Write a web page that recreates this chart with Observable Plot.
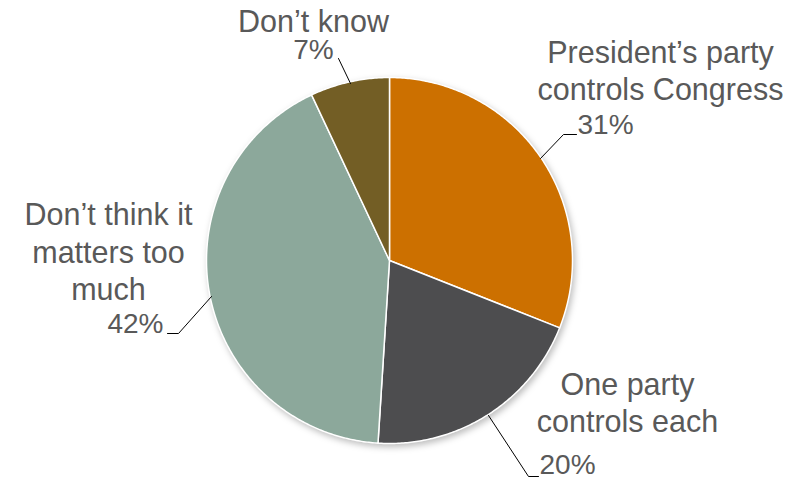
<!DOCTYPE html>
<html>
<head>
<meta charset="utf-8">
<script src="https://cdn.jsdelivr.net/npm/d3@7"></script>
<script src="https://cdn.jsdelivr.net/npm/@observablehq/plot@0.6"></script>
<style>
  html, body { margin: 0; padding: 0; background: #fff; }
  #chart svg g[aria-label="line"]:first-of-type { filter: drop-shadow(2px 3px 3px rgba(0,0,0,0.25)); }
</style>
</head>
<body>
<div id="chart"></div>
<script>
// ---- Data ----
const categories = ["President’s party\ncontrols Congress", "One party\ncontrols each", "Don’t think it\nmatters too\nmuch", "Don’t know"];
const values = [31, 20, 42, 7];
const percentLabels = ["31%", "20%", "42%", "7%"];
const colors = ["#CC7000", "#4D4D4F", "#8CA89B", "#735E25"];

// ---- Layout (pixel space, separate from data) ----
const W = 803, H = 481, CX = 389, CY = 260, R = 183;
const nameLayout = [[660, 69], [627, 401], [108, 250], [313, 19]];
const pctLayout = [[577, 125, "start"], [539, 465, "start"], [163, 324, "end"], [313, 50, "middle"]];
const leaderLayout = [
  [[540, 158], [563, 134], [576, 134]],
  [[488, 415], [528, 476], [538, 476]],
  [[211, 296], [178, 333], [167, 333]],
  [[350, 83], [338, 58]]
];
const toData = ([px, py]) => [px - CX, CY - py];

// ---- Slices via d3.pie ----
const arcs = d3.pie().sort(null).startAngle(0).endAngle(2 * Math.PI)(values);
const slicePts = [];
arcs.forEach((a, i) => {
  const steps = Math.max(2, Math.ceil((a.endAngle - a.startAngle) / 0.01));
  slicePts.push({k: i, x: 0, y: 0});
  for (let s = 0; s <= steps; s++) {
    const t = a.startAngle + (a.endAngle - a.startAngle) * s / steps;
    slicePts.push({k: i, x: R * Math.sin(t), y: R * Math.cos(t)});
  }
  slicePts.push({k: i, x: 0, y: 0});
});

const leaderPts = [];
leaderLayout.forEach((pts, i) => pts.forEach(p => { const [x, y] = toData(p); leaderPts.push({k: i, x, y}); }));

const names = categories.map((c, i) => { const [x, y] = toData(nameLayout[i]); return {text: c, x, y}; });
const pcts = percentLabels.map((c, i) => { const [x, y] = toData(pctLayout[i]); return {text: c, x, y, anchor: pctLayout[i][2]}; });

const chart = Plot.plot({
  width: W, height: H,
  margin: 0,
  x: {domain: [-CX, W - CX], axis: null},
  y: {domain: [CY - H, CY], axis: null},
  color: {domain: d3.range(categories.length), range: colors},
  style: {fontFamily: "'Liberation Sans', Arial, sans-serif", background: "#fff"},
  marks: [
    Plot.line(slicePts, {x: "x", y: "y", z: "k", fill: "k", stroke: "white", strokeWidth: 1.5, strokeLinejoin: "round"}),
    Plot.line(leaderPts, {x: "x", y: "y", z: "k", stroke: "#000", strokeWidth: 1}),
    Plot.text(names, {x: "x", y: "y", text: "text", fontSize: 30.5, lineHeight: 1.23, fill: "#595959", textAnchor: "middle", lineAnchor: "middle"}),
    Plot.text(pcts.filter(d => d.anchor === "start"), {x: "x", y: "y", text: "text", fontSize: 28, fill: "#595959", textAnchor: "start"}),
    Plot.text(pcts.filter(d => d.anchor === "end"), {x: "x", y: "y", text: "text", fontSize: 28, fill: "#595959", textAnchor: "end"}),
    Plot.text(pcts.filter(d => d.anchor === "middle"), {x: "x", y: "y", text: "text", fontSize: 28, fill: "#595959", textAnchor: "middle"})
  ]
});
document.getElementById("chart").appendChild(chart);
</script>
</body>
</html>
